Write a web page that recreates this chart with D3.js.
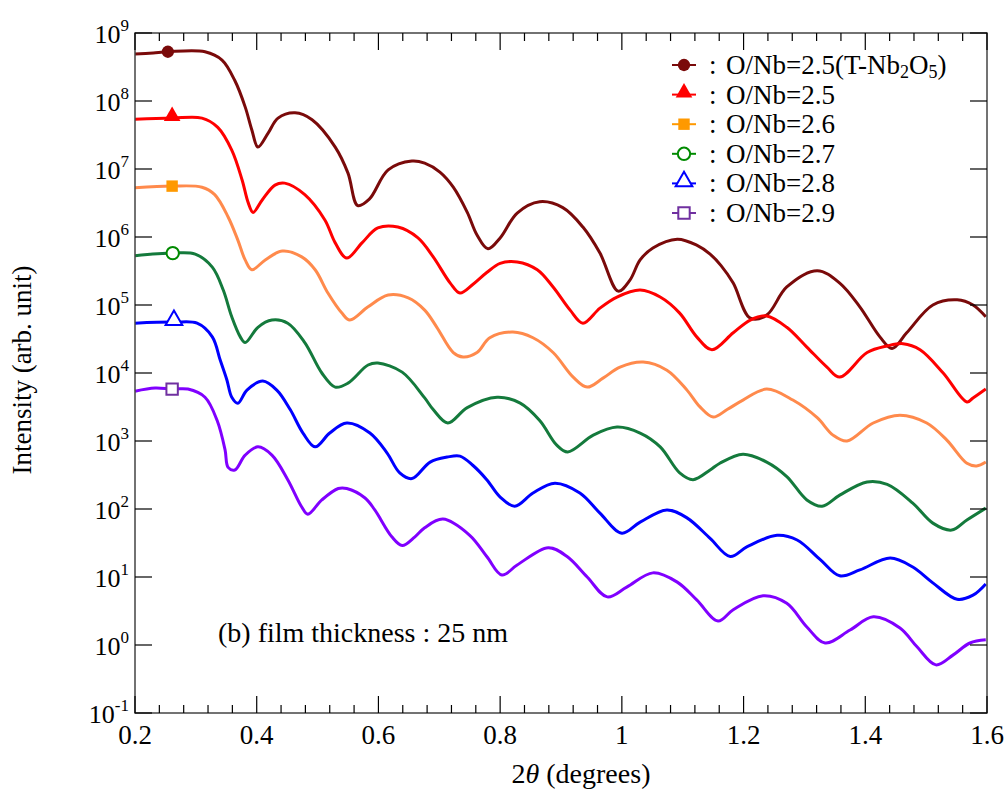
<!DOCTYPE html>
<html>
<head>
<meta charset="utf-8">
<script src="https://cdn.jsdelivr.net/npm/d3@7"></script>
<style>
  body { margin: 0; background: #fff; }
  svg text { font-family: 'Liberation Serif', 'Times New Roman', serif; fill: #000; }
</style>
</head>
<body>
<svg id="chart" width="1007" height="797"></svg>
<script>
// series: [2theta (deg), intensity (arb. unit)]
const tNb2O5 = [[0.200,4.9e8],[0.230,5.1e8],[0.254,5.3e8],[0.315,5.3e8],[0.343,4.0e8],[0.364,2.0e8],[0.381,8.2e7],[0.392,3.75e7],[0.402,2.1e7],[0.419,3.4e7],[0.435,5.6e7],[0.463,6.7e7],[0.491,5.3e7],[0.529,2.1e7],[0.550,8.7e6],[0.566,2.9e6],[0.585,3.6e6],[0.616,9.7e6],[0.655,1.31e7],[0.676,1.22e7],[0.701,9.0e6],[0.723,5.4e6],[0.746,2.3e6],[0.762,1.07e6],[0.780,6.7e5],[0.800,9.7e5],[0.828,2.25e6],[0.865,3.3e6],[0.903,2.7e6],[0.936,1.4e6],[0.964,5.8e5],[0.994,1.6e5],[1.013,2.3e5],[1.030,4.6e5],[1.051,6.9e5],[1.091,9.3e5],[1.123,7.6e5],[1.145,5.6e5],[1.163,3.8e5],[1.183,2.1e5],[1.211,6.4e4],[1.238,7.1e4],[1.271,1.84e5],[1.321,3.2e5],[1.358,2.1e5],[1.391,9.4e4],[1.424,3.4e4],[1.444,2.3e4],[1.468,3.9e4],[1.511,1.0e5],[1.551,1.19e5],[1.577,1.0e5],[1.598,6.7e4]];
const on25 = [[0.200,5.4e7],[0.261,5.6e7],[0.310,5.6e7],[0.336,4.1e7],[0.359,1.9e7],[0.376,6.9e6],[0.386,3.2e6],[0.394,2.3e6],[0.409,3.5e6],[0.430,5.8e6],[0.446,6.2e6],[0.479,4.2e6],[0.512,1.78e6],[0.529,8.2e5],[0.548,4.9e5],[0.573,8.2e5],[0.599,1.36e6],[0.632,1.4e6],[0.665,9.7e5],[0.690,5.1e5],[0.718,2.1e5],[0.734,1.5e5],[0.755,2.0e5],[0.778,3.0e5],[0.800,4.1e5],[0.828,4.3e5],[0.861,3.3e5],[0.887,1.84e5],[0.915,8.4e4],[0.936,5.4e4],[0.964,9.0e4],[0.992,1.31e5],[1.030,1.66e5],[1.063,1.31e5],[1.095,7.6e4],[1.123,3.4e4],[1.148,2.2e4],[1.183,3.9e4],[1.211,6.0e4],[1.238,6.9e4],[1.271,4.7e4],[1.304,2.4e4],[1.337,1.22e4],[1.358,8.7e3],[1.403,2.0e4],[1.436,2.5e4],[1.462,2.7e4],[1.490,2.2e4],[1.528,1.0e4],[1.567,3.75e3],[1.577,4.3e3],[1.598,5.8e3]];
const on26 = [[0.200,5.3e6],[0.261,5.6e6],[0.310,5.4e6],[0.331,4.2e6],[0.353,1.97e6],[0.369,9.0e5],[0.381,4.6e5],[0.392,3.3e5],[0.414,4.6e5],[0.442,6.2e5],[0.474,5.1e5],[0.496,3.3e5],[0.517,1.5e5],[0.540,7.6e4],[0.553,6.0e4],[0.583,9.4e4],[0.616,1.4e5],[0.649,1.27e5],[0.676,8.4e4],[0.696,4.7e4],[0.723,2.0e4],[0.739,1.72e4],[0.762,2.0e4],[0.783,3.3e4],[0.821,4.0e4],[0.854,3.3e4],[0.887,2.0e4],[0.920,8.7e3],[0.943,6.2e3],[0.969,8.4e3],[0.997,1.22e4],[1.035,1.45e4],[1.074,1.1e4],[1.107,5.6e3],[1.128,3.2e3],[1.150,2.25e3],[1.173,2.9e3],[1.199,4.0e3],[1.238,5.8e3],[1.281,4.0e3],[1.321,2.2e3],[1.347,1.22e3],[1.370,1.0e3],[1.413,1.84e3],[1.457,2.4e3],[1.501,1.84e3],[1.534,1.03e3],[1.567,470],[1.583,430],[1.598,490]];
const on27 = [[0.200,5.3e5],[0.262,5.8e5],[0.299,5.6e5],[0.327,3.6e5],[0.345,1.66e5],[0.359,6.7e4],[0.373,3.4e4],[0.381,2.8e4],[0.402,4.7e4],[0.425,6.0e4],[0.451,5.4e4],[0.479,2.8e4],[0.507,1.0e4],[0.529,6.2e3],[0.550,7.1e3],[0.583,1.31e4],[0.599,1.4e4],[0.639,1.03e4],[0.676,4.3e3],[0.690,2.9e3],[0.714,1.84e3],[0.746,3.1e3],[0.795,4.4e3],[0.833,3.6e3],[0.865,2.0e3],[0.893,870],[0.911,690],[0.953,1.22e3],[0.992,1.6e3],[1.030,1.31e3],[1.063,820],[1.095,340],[1.117,270],[1.145,375],[1.161,470],[1.199,640],[1.238,490],[1.271,300],[1.304,136],[1.329,110],[1.358,160],[1.403,250],[1.436,230],[1.478,122],[1.511,62],[1.542,49],[1.567,69],[1.598,103]];
const on28 = [[0.200,5.4e4],[0.264,5.6e4],[0.302,5.4e4],[0.327,3.4e4],[0.340,1.55e4],[0.351,7.9e3],[0.359,4.4e3],[0.369,3.6e3],[0.384,5.6e3],[0.410,7.6e3],[0.433,5.6e3],[0.455,2.9e3],[0.476,1.31e3],[0.496,820],[0.520,1.31e3],[0.548,1.84e3],[0.586,1.31e3],[0.614,670],[0.635,340],[0.655,280],[0.685,490],[0.713,580],[0.734,600],[0.755,440],[0.778,270],[0.800,150],[0.824,110],[0.854,172],[0.890,240],[0.931,172],[0.964,87],[1.000,44],[1.030,64],[1.074,97],[1.107,74],[1.145,37],[1.178,20],[1.206,28],[1.255,41],[1.288,35],[1.326,18],[1.358,10.4],[1.391,12.7],[1.441,19],[1.478,14],[1.511,8.2],[1.551,4.7],[1.577,5.4],[1.598,7.9]];
const on29 = [[0.200,5.4e3],[0.233,6.0e3],[0.261,5.8e3],[0.287,5.8e3],[0.315,4.4e3],[0.335,2.0e3],[0.348,740],[0.353,410],[0.364,375],[0.381,620],[0.402,820],[0.425,620],[0.451,270],[0.474,107],[0.484,84],[0.507,136],[0.534,200],[0.548,200],[0.578,145],[0.594,97],[0.622,39],[0.639,29],[0.660,39],[0.676,53],[0.706,71],[0.750,41],[0.778,20],[0.803,10.7],[0.828,15],[0.879,27],[0.910,20],[0.943,10],[0.976,5.1],[1.008,7.1],[1.051,11.5],[1.091,8.4],[1.123,4.6],[1.158,2.25],[1.183,3.3],[1.232,5.3],[1.271,4.1],[1.304,1.84],[1.334,1.07],[1.375,1.66],[1.413,2.6],[1.457,1.78],[1.485,0.94],[1.516,0.51],[1.544,0.71],[1.572,1.07],[1.598,1.19]];

const seriesData = [tNb2O5, on25, on26, on27, on28, on29];
const legendLabels = ['O/Nb=2.5(T-Nb', 'O/Nb=2.5', 'O/Nb=2.6', 'O/Nb=2.7', 'O/Nb=2.8', 'O/Nb=2.9'];
const lineColors = ['#7a0a0a', '#ff0000', '#ff8a4c', '#147a3c', '#0000ff', '#8000ff'];
const markerColors = ['#7a0a0a', '#ff0000', '#ff9900', '#008a00', '#0000ff', '#7030a0'];
const markerShapes = ['circle', 'triangle', 'square', 'circle', 'triangle', 'square'];
const markerFilled = [true, true, true, false, false, false];
// marker positions on each curve
const markerX = [0.254, 0.261, 0.261, 0.262, 0.264, 0.261];
const markerI = [5.3e8, 5.6e7, 5.6e6, 5.8e5, 5.6e4, 5.8e3];

const xTicks = [0.2, 0.4, 0.6, 0.8, 1, 1.2, 1.4, 1.6];
const yExponents = [-1, 0, 1, 2, 3, 4, 5, 6, 7, 8, 9];

const width = 1007, height = 797;
const margin = { top: 33, right: 20, bottom: 84, left: 135 };
const svg = d3.select('#chart');

const x = d3.scaleLinear().domain([0.2, 1.6]).range([margin.left, width - margin.right]);
const y = d3.scaleLog().domain([1e-1, 1e9]).range([height - margin.bottom, margin.top]);

const x0 = margin.left, x1 = width - margin.right;
const y0 = height - margin.bottom, y1 = margin.top;

const symbolOf = (s) => s === 'circle' ? d3.symbolCircle : s === 'triangle' ? d3.symbolTriangle : d3.symbolSquare;
const sizeOf = (s) => s === 'circle' ? 120 : s === 'triangle' ? 120 : 130;

// curves
const line = d3.line()
  .x((d) => x(d[0]))
  .y((d) => y(d[1]))
  .curve(d3.curveCatmullRom.alpha(0.5));

const plot = svg.append('g');
seriesData.forEach((data, i) => {
  plot.append('path')
    .datum(data)
    .attr('fill', 'none')
    .attr('stroke', lineColors[i])
    .attr('stroke-width', 3)
    .attr('stroke-linejoin', 'round')
    .attr('d', line);
});

function drawMarker(g, i, cx, cy) {
  g.append('path')
    .attr('transform', `translate(${cx},${cy - (markerShapes[i] === 'triangle' ? 2 : 0)})`)
    .attr('d', d3.symbol(symbolOf(markerShapes[i]), sizeOf(markerShapes[i]))())
    .attr('fill', markerFilled[i] ? markerColors[i] : '#fff')
    .attr('stroke', markerColors[i])
    .attr('stroke-width', markerFilled[i] ? 0 : 2);
}

seriesData.forEach((data, i) => drawMarker(plot, i, x(markerX[i]), y(markerI[i])));

// frame
const axisColor = '#444';
svg.append('rect')
  .attr('x', x0).attr('y', y1)
  .attr('width', x1 - x0).attr('height', y0 - y1)
  .attr('fill', 'none')
  .attr('stroke', axisColor)
  .attr('stroke-width', 1.5);

// x ticks (inward, bottom and top)
const minorX = d3.range(0, 36).map((k) => 0.2 + k * 0.04).filter((v) => v < 1.6 + 1e-9);
const ticks = svg.append('g').attr('stroke', '#000').attr('stroke-width', 1.2);
minorX.forEach((v) => {
  const major = xTicks.some((t) => Math.abs(t - v) < 1e-6);
  const len = major ? 17 : 8;
  ticks.append('line').attr('x1', x(v)).attr('x2', x(v)).attr('y1', y0).attr('y2', y0 - len);
  ticks.append('line').attr('x1', x(v)).attr('x2', x(v)).attr('y1', y1).attr('y2', y1 + len);
});
yExponents.forEach((e) => {
  const yy = y(Math.pow(10, e));
  ticks.append('line').attr('x1', x0).attr('x2', x0 + 17).attr('y1', yy).attr('y2', yy);
  ticks.append('line').attr('x1', x1).attr('x2', x1 - 17).attr('y1', yy).attr('y2', yy);
});

// x tick labels
const fmt = d3.format('~g');
svg.append('g')
  .selectAll('text')
  .data(xTicks)
  .join('text')
  .attr('x', (d) => x(d))
  .attr('y', y0 + 31)
  .attr('text-anchor', 'middle')
  .attr('font-size', 27)
  .text((d) => fmt(d));

// y tick labels 10^n
svg.append('g')
  .selectAll('text')
  .data(yExponents)
  .join('text')
  .attr('x', x0 - 6)
  .attr('y', (d) => y(Math.pow(10, d)) + 10)
  .attr('text-anchor', 'end')
  .attr('font-size', 26)
  .call((t) => t.append('tspan').text('10'))
  .call((t) => t.append('tspan').attr('dy', -12).attr('font-size', 17).text((d) => d));

// axis titles
svg.append('text')
  .attr('x', 581)
  .attr('y', height - 14)
  .attr('text-anchor', 'middle')
  .attr('font-size', 28)
  .call((t) => t.append('tspan').text('2'))
  .call((t) => t.append('tspan').attr('font-style', 'italic').text('θ'))
  .call((t) => t.append('tspan').text(' (degrees)'));

svg.append('text')
  .attr('transform', `translate(31,${(y0 + y1) / 2 - 3}) rotate(-90)`)
  .attr('text-anchor', 'middle')
  .attr('font-size', 27)
  .text('Intensity (arb. unit)');

// annotation
svg.append('text')
  .attr('x', 218)
  .attr('y', 642)
  .attr('font-size', 28)
  .text('(b) film thickness : 25 nm');

// legend
const legend = svg.append('g');
const legendX = 672, legendY = 65, rowH = 29.6;
legendLabels.forEach((lab, i) => {
  const yy = legendY + i * rowH;
  legend.append('line')
    .attr('x1', legendX).attr('x2', legendX + 24)
    .attr('y1', yy).attr('y2', yy)
    .attr('stroke', markerColors[i])
    .attr('stroke-width', 2);
  drawMarker(legend, i, legendX + 12, yy);
  legend.append('text').attr('x', legendX + 37).attr('y', yy + 9).attr('font-size', 27).text(':');
  const t = legend.append('text').attr('x', legendX + 54).attr('y', yy + 9).attr('font-size', 27);
  t.append('tspan').text(lab);
  if (i === 0) {
    t.append('tspan').attr('font-size', 18).attr('dy', 4).text('2');
    t.append('tspan').attr('font-size', 27).attr('dy', -4).text('O');
    t.append('tspan').attr('font-size', 18).attr('dy', 4).text('5');
    t.append('tspan').attr('font-size', 27).attr('dy', -4).text(')');
  }
});
</script>
</body>
</html>
